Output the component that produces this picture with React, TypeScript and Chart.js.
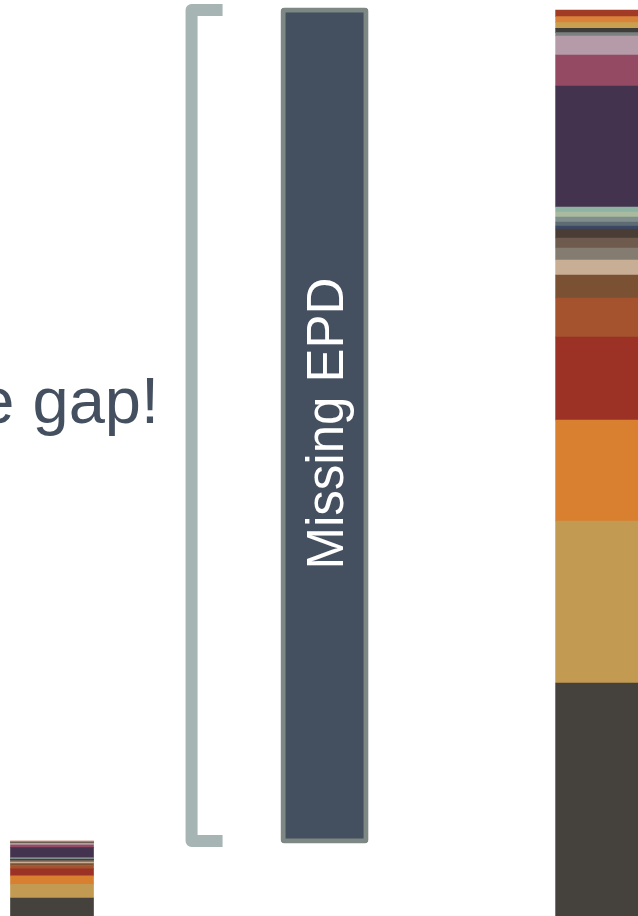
import { useEffect, useRef } from 'react';
import { Chart, registerables } from 'chart.js';

Chart.register(...registerables);

// Bar positions (index on a linear axis): covered, gap, total
const barLabels = ['With EPD', 'Missing EPD', 'All materials'];

// Stack segments, bottom to top
const segmentLabels = [
  'Material 1', 'Material 2', 'Material 3', 'Material 4', 'Material 5', 'Material 6',
  'Material 7', 'Material 8', 'Material 9', 'Material 10', 'Material 11', 'Material 12',
  'Material 13', 'Material 14', 'Material 15', 'Material 16', 'Material 17', 'Material 18',
  'Material 19', 'Material 20', 'Material 21', 'Material 22', 'Material 23',
];

const segmentColors = [
  '#45423D', '#C29A52', '#D87F30', '#9C3226', '#A5532F', '#7B5133',
  '#C8AE94', '#857C71', '#6F5A4E', '#4A3D35', '#3A4766', '#5F6B73',
  '#7F8E8C', '#A9BA9E', '#8FB3A3', '#43334E', '#934A62', '#B59AA7',
  '#7B8080', '#3F3D3A', '#C9A050', '#D9833A', '#A23B26',
];

// Small bar (materials that have an EPD)
const coveredValues = [
  1.99, 1.37, 0.86, 0.70, 0.33, 0.19, 0.13, 0.10, 0.08, 0.08, 0.03, 0.03,
  0.04, 0.04, 0.04, 1.03, 0.26, 0.16, 0.03, 0.04, 0.05, 0.05, 0.06,
];

// Large bar (all materials)
const totalValues = [
  23.5, 16.2, 10.1, 8.3, 3.9, 2.3, 1.5, 1.2, 1.0, 0.9, 0.3, 0.4,
  0.5, 0.5, 0.5, 12.1, 3.1, 1.9, 0.33, 0.44, 0.56, 0.6, 0.67,
];

const headline = 'Close the gap!';
const gapLabel = 'Missing EPD';

const FONT = '"Liberation Sans", Arial, Helvetica, sans-serif';
const BAR_THICKNESS = 83;

export default function App() {
  const canvasRef = useRef<HTMLCanvasElement | null>(null);

  useEffect(() => {
    const canvas = canvasRef.current;
    if (!canvas) return;

    const sum = (a: number[]) => a.reduce((s, v) => s + v, 0);
    const coveredTotal = sum(coveredValues);
    const overallTotal = sum(totalValues);

    const segmentDatasets = segmentLabels.map((label, i) => ({
      type: 'bar' as const,
      label,
      data: [
        { x: 0, y: coveredValues[i] },
        { x: 2, y: totalValues[i] },
      ],
      backgroundColor: segmentColors[i],
      borderWidth: 0,
      stack: 'main',
      grouped: false,
      barThickness: BAR_THICKNESS,
    }));

    const gapIndex = segmentDatasets.length;

    const gapDataset = {
      type: 'bar' as const,
      label: barLabels[1],
      data: [{ x: 1, y: [coveredTotal, overallTotal] }],
      backgroundColor: '#44505F',
      borderColor: '#7D8784',
      borderWidth: 5,
      borderRadius: 4,
      borderSkipped: false,
      inflateAmount: 2.5,
      stack: 'gap',
      grouped: false,
      barThickness: BAR_THICKNESS,
    };

    const overlay = {
      id: 'overlay',
      afterDatasetsDraw(chart: any) {
        const ctx: CanvasRenderingContext2D = chart.ctx;
        const el = chart.getDatasetMeta(gapIndex).data[0];
        if (!el) return;
        const { x, y: top, base } = el.getProps(['x', 'y', 'base'], true);
        const left = x - BAR_THICKNESS / 2;

        // bracket
        ctx.save();
        ctx.strokeStyle = '#A6B4B3';
        ctx.lineWidth = 12;
        ctx.lineJoin = 'round';
        ctx.lineCap = 'butt';
        ctx.beginPath();
        ctx.moveTo(left - 60.5, top);
        ctx.lineTo(left - 91.5, top);
        ctx.lineTo(left - 91.5, base);
        ctx.lineTo(left - 60.5, base);
        ctx.stroke();
        ctx.restore();

        // rotated label in the gap bar
        ctx.save();
        const fs = 51;
        ctx.translate(x, (top + base) / 2 - 2);
        ctx.rotate(-Math.PI / 2);
        ctx.fillStyle = '#FFFFFF';
        ctx.font = `${fs}px ${FONT}`;
        ctx.textAlign = 'center';
        ctx.textBaseline = 'alphabetic';
        ctx.fillText(gapLabel, 0, fs * 0.36);
        ctx.restore();

        // headline (partly outside the crop)
        ctx.save();
        ctx.fillStyle = '#44505F';
        ctx.font = `65px ${FONT}`;
        ctx.textAlign = 'right';
        ctx.textBaseline = 'alphabetic';
        ctx.fillText(headline, 159, 423);
        ctx.restore();
      },
    };

    const chart = new Chart(canvas, {
      type: 'bar',
      data: { datasets: [...segmentDatasets, gapDataset] as any },
      options: {
        animation: false,
        responsive: false,
        maintainAspectRatio: false,
        layout: { padding: 0 },
        scales: {
          x: { type: 'linear', min: -0.1908, max: 2.15, offset: false, display: false },
          y: { stacked: true, min: 0.2, max: 91.8, display: false },
        },
        plugins: {
          legend: { display: false },
          tooltip: { enabled: false },
          title: { display: false },
        },
      } as any,
      plugins: [overlay],
    });

    return () => chart.destroy();
  }, []);

  return (
    <div style={{ position: 'fixed', left: 0, top: 0, width: 638, height: 916, background: '#FFFFFF' }}>
      <canvas ref={canvasRef} width={638} height={916} style={{ display: 'block', width: 638, height: 916 }} />
    </div>
  );
}
